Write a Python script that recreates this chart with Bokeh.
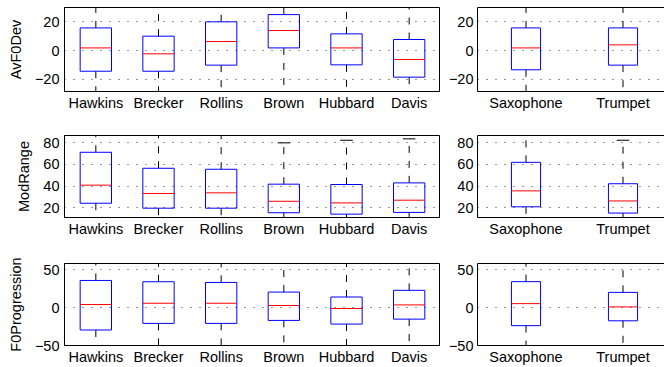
import numpy as np
from bokeh.plotting import figure
from bokeh.models import Range1d, FixedTicker, LinearAxis
from bokeh.layouts import column, row
from bokeh.embed import file_html
from bokeh.resources import INLINE

players = ["Hawkins", "Brecker", "Rollins", "Brown", "Hubbard", "Davis"]
instruments = ["Saxophone", "Trumpet"]

# AvF0Dev
avf0_q1 = [-14.3, -14.3, -10.1, 1.8, -9.9, -18.4]
avf0_med = [1.8, -2.3, 6.2, 13.8, 1.8, -6.2]
avf0_q3 = [15.6, 9.9, 19.8, 24.8, 11.5, 7.6]
avf0_lo = [-48, -45, -40, -32, -38, -50]
avf0_hi = [45, 38, 48, 52, 40, 34]
avf0_inst_q1 = [-13.3, -10.1]
avf0_inst_med = [1.8, 3.9]
avf0_inst_q3 = [15.6, 15.6]
avf0_inst_lo = [-48, -42]
avf0_inst_hi = [46, 50]

# ModRange
mod_q1 = [24.2, 19.6, 19.6, 15.4, 14.1, 15.7]
mod_med = [40.9, 33.2, 33.8, 26.0, 24.5, 27.0]
mod_q3 = [71.3, 56.5, 55.6, 41.8, 41.5, 43.0]
mod_lo = [5, 3, 4, 6, 5, 5]
mod_hi = [95, 100, 98, 80.0, 82.4, 83.7]
mod_inst_q1 = [20.9, 15.1]
mod_inst_med = [35.6, 26.3]
mod_inst_q3 = [62.0, 42.2]
mod_inst_lo = [3, 5]
mod_inst_hi = [100, 82.4]

# F0Progression
prog_q1 = [-29.6, -20.9, -20.9, -17.0, -21.8, -15.3]
prog_med = [3.9, 5.6, 5.6, 2.6, -1.3, 3.4]
prog_q3 = [35.6, 33.9, 33.0, 20.3, 13.8, 22.6]
prog_lo = [-90, -80, -75, -70, -65, -70]
prog_hi = [75, 70, 72, 62, 60, 65]
prog_inst_q1 = [-23.9, -17.5]
prog_inst_med = [5.1, 0.8]
prog_inst_q3 = [34.0, 19.9]
prog_inst_lo = [-80, -70]
prog_inst_hi = [70, 65]

FONT = "Liberation Sans"
FS = "14.5px"


def make_fig(names, q1, med, q3, lo, hi, yr, yticks, ylabel, width, height,
             mb_left, mb_top, mb_bottom, box_w, cap_w, xend, right_panel):
    n = len(names)
    xs = np.arange(1, n + 1)
    p = figure(width=width, height=height, x_range=Range1d(0.5, xend),
               y_range=Range1d(*yr), output_backend="svg", toolbar_location=None,
               min_border_left=mb_left, min_border_right=0,
               min_border_top=mb_top, min_border_bottom=mb_bottom,
               background_fill_color="white", border_fill_color="white")
    p.xaxis.ticker = FixedTicker(ticks=list(xs))
    p.xaxis.major_label_overrides = {int(x): nm for x, nm in zip(xs, names)}
    p.yaxis.ticker = FixedTicker(ticks=yticks)
    p.yaxis.major_label_overrides = {t: ("\u2212" + str(abs(t)) if t < 0 else str(t)) for t in yticks}
    for ax in (p.xaxis[0], p.yaxis[0]):
        ax.major_tick_in = 0
        ax.major_tick_out = 0
        ax.minor_tick_line_color = None
        ax.major_label_text_font = FONT
        ax.major_label_text_font_size = FS
        ax.major_label_text_color = "black"
        ax.axis_line_color = "black"
    p.xaxis.major_label_standoff = 3
    p.yaxis.major_label_standoff = 4 if right_panel else 5
    if ylabel:
        p.yaxis.axis_label = ylabel
        p.yaxis.axis_label_text_font = FONT
        p.yaxis.axis_label_text_font_size = FS
        p.yaxis.axis_label_text_font_style = "normal"
        p.yaxis.axis_label_text_color = "black"
        p.yaxis.axis_label_standoff = 8
    p.xgrid.visible = False
    p.ygrid.ticker = FixedTicker(ticks=yticks)
    p.ygrid.grid_line_color = "#333333"
    p.ygrid.grid_line_dash = "1 8"
    p.ygrid.grid_line_width = 1
    if right_panel:
        p.outline_line_color = None
        top = LinearAxis(ticker=FixedTicker(ticks=[]), major_label_text_font_size="0px",
                         major_tick_in=0, major_tick_out=0, minor_tick_in=0,
                         minor_tick_out=0, major_label_standoff=0,
                         axis_line_color="black")
        p.add_layout(top, "above")
    else:
        p.outline_line_color = "black"
        p.outline_line_alpha = 1.0

    # whiskers
    p.segment(x0=xs, y0=q3, x1=xs, y1=hi, line_color="black", line_dash="7 8", line_width=1)
    p.segment(x0=xs, y0=q1, x1=xs, y1=lo, line_color="black", line_dash="7 8", line_width=1)
    # caps
    p.segment(x0=xs - cap_w / 2, y0=hi, x1=xs + cap_w / 2, y1=hi, line_color="black", line_width=1)
    p.segment(x0=xs - cap_w / 2, y0=lo, x1=xs + cap_w / 2, y1=lo, line_color="black", line_width=1)
    # boxes
    p.quad(left=xs - box_w / 2, right=xs + box_w / 2, bottom=q1, top=q3,
           fill_color=None, line_color="#0000ff", line_width=1)
    # medians
    p.segment(x0=xs - box_w / 2, y0=med, x1=xs + box_w / 2, y1=med,
              line_color="#ff0000", line_width=1)
    return p


r1 = (-28.3, 29.7)
r2 = (11.0, 86.8)
r3 = (-50.0, 57.9)
t1 = [-20, 0, 20]
t2 = [20, 40, 60, 80]
t3 = [-50, 0, 50]

LW, RW = 440, 224
RX = 0.5 + 187.0 / 97.0

a = make_fig(players, avf0_q1, avf0_med, avf0_q3, avf0_lo, avf0_hi, r1, t1, "AvF0Dev",
             LW, 115, 64, 7, 24, 0.5, 0.2, 6.5, False)
b = make_fig(instruments, avf0_inst_q1, avf0_inst_med, avf0_inst_q3, avf0_inst_lo, avf0_inst_hi,
             r1, t1, None, RW, 115, 37, 7, 24, 0.3, 0.13, RX, True)
c = make_fig(players, mod_q1, mod_med, mod_q3, mod_lo, mod_hi, r2, t2, "ModRange",
             LW, 126, 64, 20, 24, 0.5, 0.2, 6.5, False)
d = make_fig(instruments, mod_inst_q1, mod_inst_med, mod_inst_q3, mod_inst_lo, mod_inst_hi,
             r2, t2, None, RW, 126, 37, 20, 22, 0.3, 0.13, RX, True)
e = make_fig(players, prog_q1, prog_med, prog_q3, prog_lo, prog_hi, r3, t3, "F0Progression",
             LW, 126, 64, 22, 21, 0.5, 0.2, 6.5, False)
f = make_fig(instruments, prog_inst_q1, prog_inst_med, prog_inst_q3, prog_inst_lo, prog_inst_hi,
             r3, t3, None, RW, 126, 37, 22, 19, 0.3, 0.13, RX, True)

layout = column(row(a, b), row(c, d), row(e, f))
open("out.html", "w").write(file_html(layout, INLINE))
